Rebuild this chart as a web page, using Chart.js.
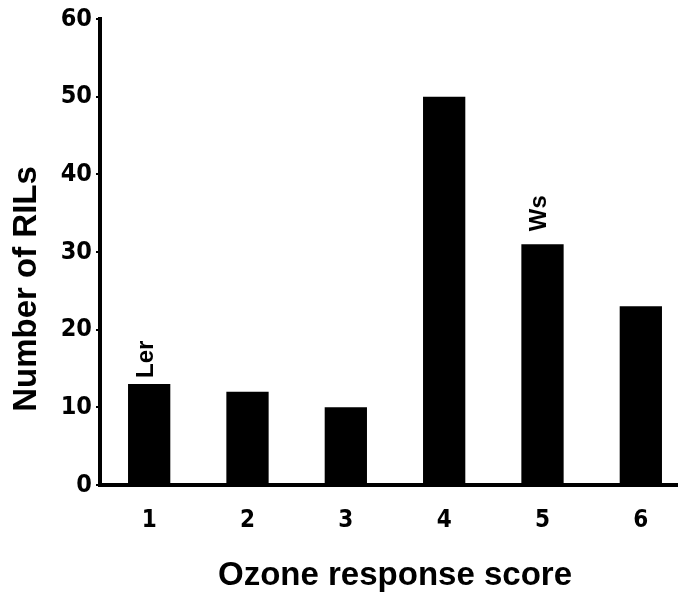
<!DOCTYPE html>
<html>
<head>
<meta charset="utf-8">
<script src="https://cdn.jsdelivr.net/npm/chart.js@4/dist/chart.umd.min.js"></script>
<style>
  html, body { margin: 0; padding: 0; background: #fff; overflow: hidden; }
  #wrap { width: 700px; height: 598px; }
</style>
</head>
<body>
<div id="wrap"><canvas id="c" width="700" height="598"></canvas></div>
<script>
// Ozone response scores of the RIL population
const scores = ['1', '2', '3', '4', '5', '6'];
const rilCounts = [13, 12, 10, 50, 31, 23];
const parentLabels = ['Ler', '', '', '', 'Ws', ''];
const yTicks = [0, 10, 20, 30, 40, 50, 60];

const narrowFamily = "'Liberation Sans Narrow', 'DejaVu Sans', sans-serif";
const wideBold = "'Liberation Sans', Arial, Helvetica, sans-serif";

// Parent-line names written vertically above their bars
const parentNames = {
  id: 'parentNames',
  afterDatasetsDraw(chart, args, opts) {
    const ctx = chart.ctx;
    const meta = chart.getDatasetMeta(0);
    ctx.save();
    ctx.fillStyle = '#000';
    ctx.font = 'bold 24px ' + wideBold;
    ctx.textAlign = 'left';
    ctx.textBaseline = 'middle';
    parentLabels.forEach((name, i) => {
      if (!name) return;
      const bar = meta.data[i];
      const gap = (opts.gaps && opts.gaps[name]) || 8;
      ctx.save();
      ctx.translate(bar.x - 3, bar.y - gap);
      ctx.rotate(-Math.PI / 2);
      ctx.fillText(name, 0, 0);
      ctx.restore();
    });
    ctx.restore();
  }
};

// Vertical caption for the count axis
const countCaption = {
  id: 'countCaption',
  afterDraw(chart, args, opts) {
    const ctx = chart.ctx;
    ctx.save();
    ctx.fillStyle = '#000';
    ctx.font = 'bold 33px ' + wideBold;
    ctx.textAlign = 'center';
    ctx.textBaseline = 'middle';
    ctx.translate(opts.x, opts.y);
    ctx.rotate(-Math.PI / 2);
    ctx.fillText(opts.text, 0, 0);
    ctx.restore();
  }
};

new Chart(document.getElementById('c'), {
  type: 'bar',
  data: {
    labels: scores,
    datasets: [{
      data: rilCounts,
      backgroundColor: '#000',
      borderWidth: 0,
      categoryPercentage: 1,
      barPercentage: 0.43
    }]
  },
  options: {
    responsive: false,
    animation: false,
    devicePixelRatio: 1,
    layout: { padding: { top: 19, right: 10, left: 0, bottom: 0 } },
    plugins: {
      legend: { display: false },
      tooltip: { enabled: false },
      parentNames: { gaps: { Ler: 6, Ws: 13 } },
      countCaption: { text: 'Number of RILs', x: 27, y: 289 }
    },
    scales: {
      x: {
        grid: { display: false, drawTicks: false },
        border: { display: true, color: '#000', width: 4 },
        ticks: {
          color: '#000',
          padding: 21,
          font: { family: narrowFamily, size: 24, weight: 'bold condensed' }
        },
        title: {
          display: true,
          text: 'Ozone response score',
          color: '#000',
          font: { family: wideBold, size: 33, weight: 'bold' },
          padding: { top: 0, bottom: 2 }
        },
        afterFit(scale) { scale.height = 113; }
      },
      y: {
        min: 0,
        max: 60,
        afterBuildTicks(scale) { scale.ticks = yTicks.map(v => ({ value: v })); },
        grid: { drawOnChartArea: false, drawTicks: true, tickLength: 4, color: '#000', lineWidth: 2 },
        border: { display: true, color: '#000', width: 4 },
        ticks: {
          color: '#000',
          padding: 4,
          font: { family: narrowFamily, size: 25, weight: 'bold condensed' }
        },
        afterFit(scale) { scale.width = 100; }
      }
    }
  },
  plugins: [parentNames, countCaption]
});
</script>
</body>
</html>
